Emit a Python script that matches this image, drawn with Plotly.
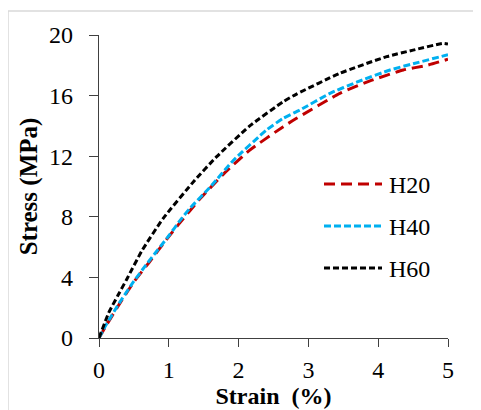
import plotly.graph_objects as go

# Data
strain_h20 = [0, 0.10, 0.30, 0.50, 0.72, 1.00, 1.14, 1.45, 1.80, 2.16, 2.64, 2.83, 3.45, 3.90, 4.36, 4.70, 5.0]
stress_h20 = [0, 0.80, 2.30, 3.70, 5.00, 6.70, 7.50, 9.20, 10.9, 12.4, 13.95, 14.5, 16.15, 17.0, 17.69, 18.0, 18.4]

strain_h40 = [0, 0.10, 0.29, 0.50, 0.72, 1.00, 1.16, 1.30, 1.61, 1.92, 2.40, 2.64, 2.88, 3.31, 3.70, 4.17, 4.50, 5.0]
stress_h40 = [0, 0.85, 2.30, 3.75, 5.10, 6.75, 7.75, 8.55, 10.05, 11.7, 13.73, 14.5, 15.05, 16.15, 16.9, 17.69, 18.1, 18.7]

strain_h60 = [0, 0.14, 0.27, 0.40, 0.62, 0.92, 1.375, 1.686, 2.16, 2.64, 2.83, 3.45, 4.12, 4.50, 4.93, 5.0]
stress_h60 = [0, 1.67, 2.80, 3.90, 5.80, 7.90, 10.43, 11.97, 14.0, 15.6, 16.1, 17.47, 18.57, 19.0, 19.45, 19.4]

series_names = ["H20", "H40", "H60"]
series_colors = ["#C00000", "#00B0F0", "#000000"]
series_dash = ["11px,6px", "7px,3px", "6px,3px"]

xs = [strain_h20, strain_h40, strain_h60]
ys = [stress_h20, stress_h40, stress_h60]

fig = go.Figure()
for name, x, y, c, d in zip(series_names, xs, ys, series_colors, series_dash):
    fig.add_trace(go.Scatter(x=x, y=y, mode="lines", name=name,
                             line=dict(color=c, width=3, dash=d, shape="spline", smoothing=0.5)))

serif = "'Liberation Serif', 'Times New Roman', serif"
OFF = 8  # page body margin
W, H = 481 - OFF, 410 - OFF
L, T = 99 - OFF, 35 - OFF
pw, ph = 349, 303
R = W - L - pw
B = H - T - ph

def px(xw):
    return (xw - OFF - L) / pw

def py(yw):
    return (T + ph - (yw - OFF)) / ph

shapes = []
annotations = []
# outer light border
shapes.append(dict(type="rect", xref="paper", yref="paper",
                   x0=px(8), x1=px(520), y0=py(11), y1=py(440),
                   line=dict(color="#d9d9d9", width=1.5), layer="below"))
# manual legend
leg_y = [184, 226, 268]
for name, c, d, yy in zip(series_names, series_colors, series_dash, leg_y):
    shapes.append(dict(type="line", xref="paper", yref="paper",
                       x0=px(324), x1=px(382), y0=py(yy), y1=py(yy),
                       line=dict(color=c, width=3, dash=d)))
    annotations.append(dict(xref="paper", yref="paper", x=px(387), y=py(yy + 1),
                            text=name, showarrow=False, xanchor="left", yanchor="middle",
                            font=dict(family=serif, size=24, color="#000")))

fig.update_layout(
    width=W, height=H,
    margin=dict(l=L, r=R, t=T, b=B, autoexpand=False),
    paper_bgcolor="white", plot_bgcolor="white",
    showlegend=False,
    shapes=shapes, annotations=annotations,
    font=dict(family=serif, size=24, color="#000"),
)
fig.update_xaxes(range=[0, 5], tickvals=[0, 1, 2, 3, 4, 5], showgrid=False, zeroline=False,
                 showline=True, linecolor="#404040", linewidth=1.2,
                 ticks="outside", ticklen=8, tickcolor="#404040", tickwidth=1.2,
                 tickfont=dict(family=serif, size=24, color="#000"),
                 ticklabelstandoff=2,
                 title=dict(text="<b>Strain  (%)</b>", font=dict(family=serif, size=24, color="#000"), standoff=2))
fig.update_yaxes(range=[0, 20], tickvals=[0, 4, 8, 12, 16, 20], showgrid=False, zeroline=False,
                 showline=True, linecolor="#404040", linewidth=1.2,
                 ticks="outside", ticklen=9, tickcolor="#404040", tickwidth=1.2,
                 tickfont=dict(family=serif, size=24, color="#000"),
                 ticklabelstandoff=11,
                 title=dict(text="<b>Stress (MPa)</b>", font=dict(family=serif, size=25, color="#000"), standoff=4))

fig.write_html("out.html")
